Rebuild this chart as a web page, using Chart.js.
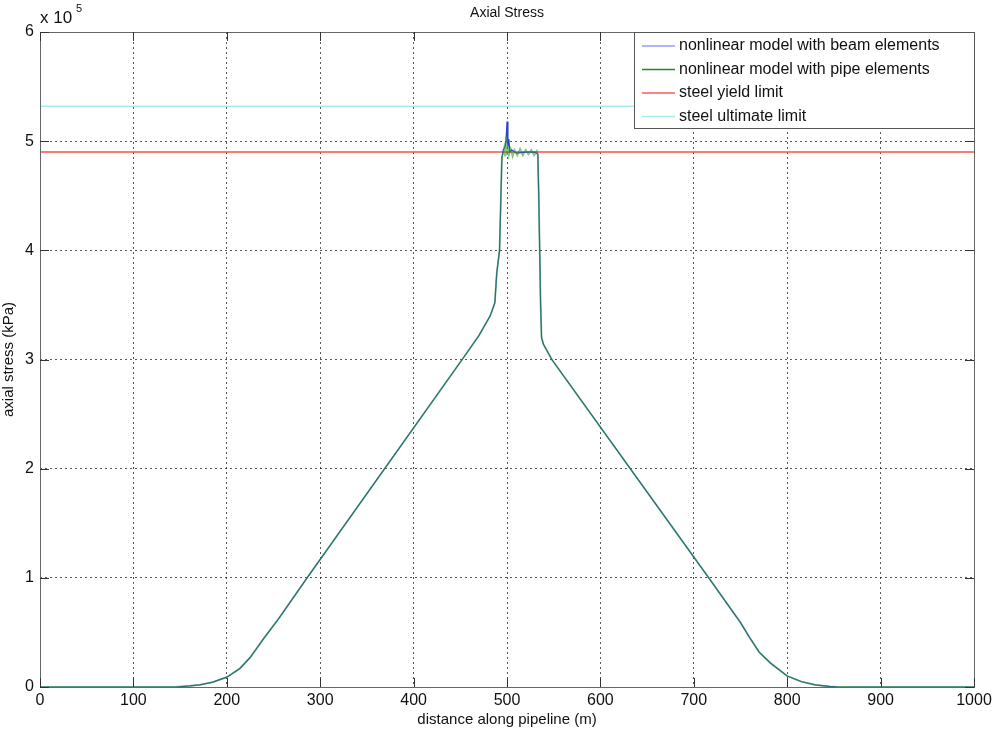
<!DOCTYPE html>
<html>
<head>
<meta charset="utf-8">
<script src="https://cdn.jsdelivr.net/npm/chart.js@4.4.1/dist/chart.umd.min.js"></script>
<style>
  html, body { margin: 0; padding: 0; background: #fff; }
  #wrap { width: 996px; height: 731px; }
</style>
</head>
<body>
<div id="wrap"><canvas id="axialChart" width="996" height="731"></canvas></div>
<script>
// distance along pipeline (m) and axial stress (kPa)
const beamX = [0, 145, 160, 171, 185, 200, 214, 225, 240, 255, 286, 369, 452, 470, 482, 487, 489, 492, 493.5, 494.5, 496, 498, 499, 500, 501, 502, 503, 505, 510, 520, 530, 533, 534, 535, 536, 537, 539, 548, 632, 716, 750, 760, 770, 782, 800, 815, 830, 845, 855, 1000];
const beamY = [0, 0, 1000, 2000, 4500, 9000, 17000, 27000, 45000, 62000, 100000, 200000, 300000, 322000, 340000, 352000, 379000, 400000, 450000, 485000, 492000, 495000, 500000, 518000, 495000, 502000, 490000, 492000, 489000, 490000, 490000, 488000, 450000, 400000, 350000, 320000, 314000, 300000, 200000, 100000, 59000, 45000, 32000, 22000, 10000, 5000, 2000, 500, 0, 0];

const pipeX = [0, 145, 160, 171, 185, 200, 214, 225, 240, 255, 286, 369, 452, 470, 482, 487, 489, 492, 493.5, 494.5, 496, 497, 498, 499, 500, 501, 502, 504, 506, 508, 511, 514, 517, 520, 523, 526, 529, 532, 533, 534, 535, 536, 537, 539, 548, 632, 716, 750, 760, 770, 782, 800, 815, 830, 845, 855, 1000];
const pipeY = [0, 0, 1000, 2000, 4500, 9000, 17000, 27000, 45000, 62000, 100000, 200000, 300000, 322000, 340000, 352000, 379000, 400000, 450000, 485000, 489000, 494000, 486000, 505000, 488000, 496000, 487000, 493000, 486000, 492000, 487000, 493000, 487000, 492000, 488000, 492000, 487000, 491000, 488000, 450000, 400000, 350000, 320000, 314000, 300000, 200000, 100000, 59000, 45000, 32000, 22000, 10000, 5000, 2000, 500, 0, 0];

const yieldLimit = 490000;
const ultimateLimit = 532000;

const xTicks = [0, 100, 200, 300, 400, 500, 600, 700, 800, 900, 1000];
const yTicks = [0, 100000, 200000, 300000, 400000, 500000, 600000];

const legendItems = [
  { label: 'nonlinear model with beam elements', color: '#9a9aff' },
  { label: 'nonlinear model with pipe elements', color: '#1f8a1f' },
  { label: 'steel yield limit', color: '#ff5a5a' },
  { label: 'steel ultimate limit', color: '#a8ecec' }
];

const FONT = '"Liberation Sans", Arial, sans-serif';

function toPoints(xs, ys) {
  return xs.map((x, i) => ({ x: x, y: ys[i] }));
}

// matlab-like frame, inward ticks, legend box, title and exponent label
const matlabDecor = {
  id: 'matlabDecor',
  afterDatasetsDraw(chart) {
    const { ctx, chartArea: a, scales: { x, y } } = chart;
    ctx.save();

    // frame
    ctx.strokeStyle = '#666';
    ctx.lineWidth = 1;
    ctx.strokeRect(a.left + 0.5, a.top + 0.5, a.right - a.left, a.bottom - a.top);

    // inward ticks
    ctx.strokeStyle = '#333';
    ctx.beginPath();
    xTicks.forEach(v => {
      const px = Math.round(x.getPixelForValue(v)) + 0.5;
      ctx.moveTo(px, a.bottom); ctx.lineTo(px, a.bottom - 9);
      ctx.moveTo(px, a.top); ctx.lineTo(px, a.top + 9);
    });
    yTicks.forEach(v => {
      const py = Math.round(y.getPixelForValue(v)) + 0.5;
      ctx.moveTo(a.left, py); ctx.lineTo(a.left + 9, py);
      ctx.moveTo(a.right, py); ctx.lineTo(a.right - 9, py);
    });
    ctx.stroke();

    // legend box
    const bx = 634, by = a.top, bw = a.right - 634, bh = 96;
    ctx.fillStyle = '#fff';
    ctx.fillRect(bx, by, bw, bh);
    ctx.strokeStyle = '#555';
    ctx.strokeRect(bx + 0.5, by + 0.5, bw, bh);
    ctx.font = '16px ' + FONT;
    ctx.textBaseline = 'middle';
    ctx.textAlign = 'left';
    legendItems.forEach((item, i) => {
      const ly = by + 14 + i * 23.5;
      ctx.strokeStyle = item.color;
      ctx.lineWidth = 1.5;
      ctx.beginPath();
      ctx.moveTo(bx + 8, ly); ctx.lineTo(bx + 41, ly);
      ctx.stroke();
      ctx.fillStyle = '#111';
      ctx.fillText(item.label, bx + 45, ly);
    });

    // title
    ctx.fillStyle = '#111';
    ctx.font = '14px ' + FONT;
    ctx.textAlign = 'center';
    ctx.fillText('Axial Stress', (a.left + a.right) / 2, 13);

    // exponent
    ctx.textAlign = 'left';
    ctx.font = '17px ' + FONT;
    ctx.fillText('x 10', 40, 18);
    ctx.font = '11px ' + FONT;
    ctx.fillText('5', 76, 9);

    ctx.restore();
  }
};

const ctx = document.getElementById('axialChart').getContext('2d');

new Chart(ctx, {
  type: 'line',
  data: {
    datasets: [
      {
        label: 'steel ultimate limit',
        data: [{ x: 0, y: ultimateLimit }, { x: 1000, y: ultimateLimit }],
        borderColor: '#a8ecec',
        borderWidth: 1.5,
        pointRadius: 0,
        order: 3
      },
      {
        label: 'steel yield limit',
        data: [{ x: 0, y: yieldLimit }, { x: 1000, y: yieldLimit }],
        borderColor: '#ff4a4a',
        borderWidth: 1.5,
        pointRadius: 0,
        order: 2
      },
      {
        label: 'nonlinear model with beam elements',
        data: toPoints(beamX, beamY),
        borderColor: '#2a3fd8',
        borderWidth: 1.2,
        pointRadius: 0,
        tension: 0,
        order: 1
      },
      {
        label: 'nonlinear model with pipe elements',
        data: toPoints(pipeX, pipeY),
        borderColor: 'rgba(40,150,40,0.55)',
        borderWidth: 1.8,
        pointRadius: 0,
        tension: 0,
        order: 0
      }
    ]
  },
  options: {
    responsive: false,
    animation: false,
    layout: { padding: { top: 32, right: 22, left: 0, bottom: 0 } },
    plugins: {
      legend: { display: false },
      tooltip: { enabled: false }
    },
    scales: {
      x: {
        type: 'linear',
        min: 0,
        max: 1000,
        afterFit: s => { s.height = 44; },
        afterBuildTicks: s => { s.ticks = xTicks.map(v => ({ value: v })); },
        ticks: {
          padding: 4,
          color: '#111',
          font: { family: FONT, size: 16 },
          maxRotation: 0,
          callback: v => String(v)
        },
        grid: {
          color: 'rgba(0,0,0,0.65)',
          drawTicks: false
        },
        border: { display: false, dash: [2, 3] },
        title: {
          display: true,
          text: 'distance along pipeline (m)',
          color: '#111',
          font: { family: FONT, size: 15 },
          padding: { top: 0, bottom: 2 }
        }
      },
      y: {
        min: 0,
        max: 600000,
        afterFit: s => { s.width = 40; },
        afterBuildTicks: s => { s.ticks = yTicks.map(v => ({ value: v })); },
        ticks: {
          padding: 6,
          color: '#111',
          font: { family: FONT, size: 16 },
          callback: v => String(v / 100000)
        },
        grid: {
          color: 'rgba(0,0,0,0.65)',
          drawTicks: false
        },
        border: { display: false, dash: [2, 3] },
        title: {
          display: true,
          text: 'axial stress (kPa)',
          color: '#111',
          font: { family: FONT, size: 15 },
          padding: { top: 0, bottom: 2 }
        }
      }
    }
  },
  plugins: [matlabDecor]
});
</script>
</body>
</html>
